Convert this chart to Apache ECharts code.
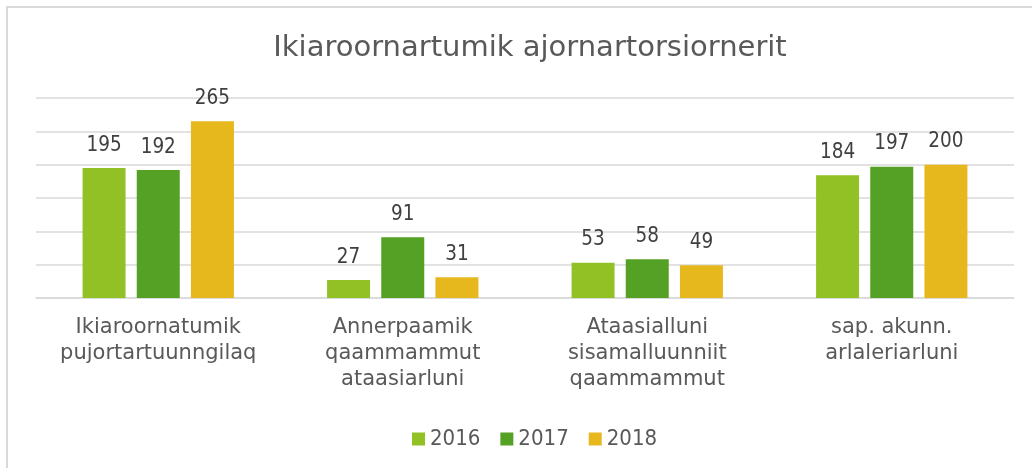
<!DOCTYPE html>
<html>
<head>
<meta charset="utf-8">
<script src="https://cdn.jsdelivr.net/npm/echarts@6/dist/echarts.min.js"></script>
<style>
  html, body { margin: 0; padding: 0; background: #fff; }
  #chart { width: 1032px; height: 468px; }
</style>
</head>
<body>
<div id="chart"></div>
<script>
var categories = [
    'Ikiaroornatumik\npujortartuunngilaq',
    'Annerpaamik\nqaammammut\nataasiarluni',
    'Ataasialluni\nsisamalluunniit\nqaammammut',
    'sap. akunn.\narlaleriarluni'
];
var years = ['2016', '2017', '2018'];
var values2016 = [195, 27, 53, 184];
var values2017 = [192, 91, 58, 197];
var values2018 = [265, 31, 49, 200];
var colors = ['#92C126', '#55A125', '#E6B81E'];

var myChart = echarts.init(document.getElementById('chart'));

function makeSeries(name, data, color) {
    return {
        name: name,
        type: 'bar',
        data: data,
        barWidth: 43,
        barGap: '26%',
        itemStyle: { color: color },
        label: {
            show: true,
            position: 'top',
            distance: 12,
            color: '#404040',
            fontFamily: 'DejaVu Sans Condensed',
            fontSize: 20.5
        }
    };
}

var option = {
    animation: false,
    title: {
        text: 'Ikiaroornartumik ajornartorsiornerit',
        left: 525,
        textAlign: 'center',
        top: 29,
        textStyle: {
            color: '#595959',
            fontFamily: 'DejaVu Sans',
            fontWeight: 'normal',
            fontSize: 29
        }
    },
    graphic: [{
        type: 'rect',
        shape: { x: 7, y: 7, width: 1200, height: 1000 },
        style: { fill: 'none', stroke: '#d9d9d9', lineWidth: 2 },
        silent: true
    }],
    legend: {
        left: 407,
        top: 423,
        itemWidth: 13,
        itemHeight: 13,
        itemGap: 20,
        icon: 'rect',
        data: years,
        textStyle: {
            color: '#595959',
            fontFamily: 'DejaVu Sans Condensed',
            fontSize: 22
        }
    },
    grid: { left: 36, right: 18, top: 98, bottom: 170 },
    xAxis: {
        type: 'category',
        data: categories,
        axisLine: { show: true, lineStyle: { color: '#d9d9d9', width: 1.5 } },
        axisTick: { show: false },
        axisLabel: {
            color: '#595959',
            fontFamily: 'DejaVu Sans',
            fontSize: 21,
            lineHeight: 26,
            margin: 17,
            interval: 0
        }
    },
    yAxis: {
        type: 'value',
        min: 0,
        max: 300,
        interval: 50,
        axisLabel: { show: false },
        axisLine: { show: false },
        axisTick: { show: false },
        splitLine: { show: true, lineStyle: { color: '#d9d9d9', width: 1.5 } }
    },
    series: [
        makeSeries(years[0], values2016, colors[0]),
        makeSeries(years[1], values2017, colors[1]),
        makeSeries(years[2], values2018, colors[2])
    ]
};
myChart.setOption(option);
</script>
</body>
</html>
